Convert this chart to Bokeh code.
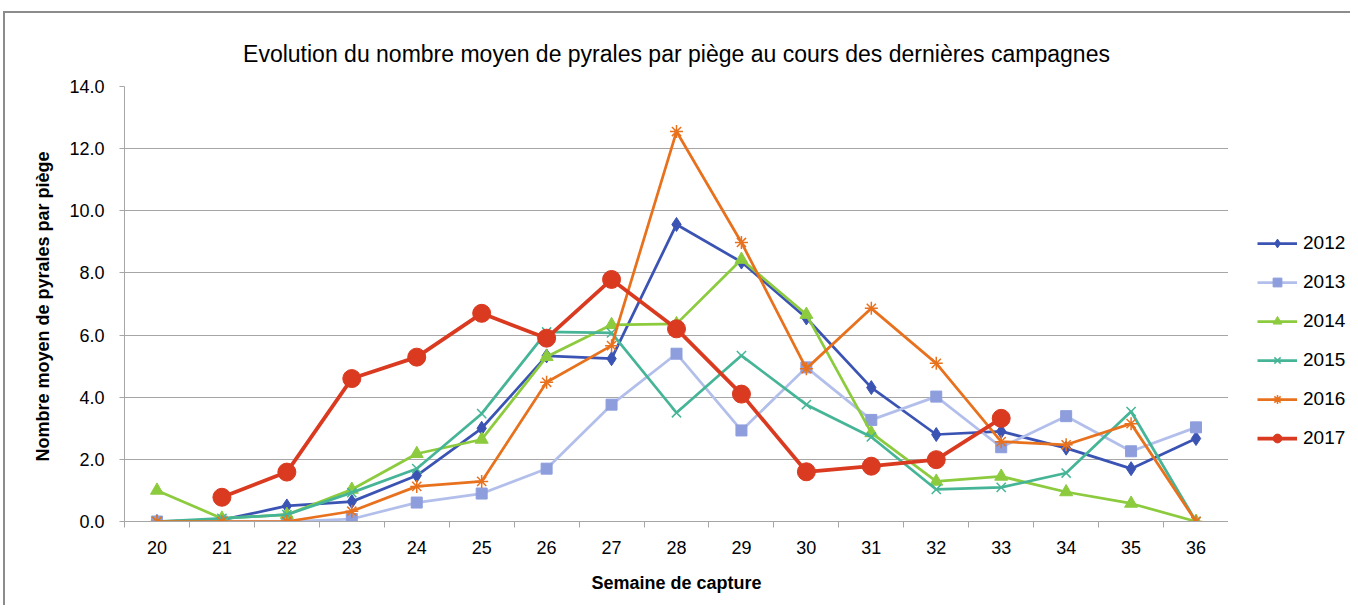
from bokeh.plotting import figure
from bokeh.layouts import row
from bokeh.models import FixedTicker, PrintfTickFormatter, Legend, LegendItem, InlineStyleSheet
from bokeh.embed import file_html
from bokeh.resources import INLINE

weeks = list(range(20, 37))
weeks_2017 = list(range(21, 34))
y2012 = [0.0, 0.05, 0.5, 0.64, 1.48, 3.0, 5.33, 5.24, 9.56, 8.35, 6.55, 4.31, 2.8, 2.9, 2.36, 1.7, 2.67]
y2013 = [0.0, 0.0, 0.0, 0.08, 0.61, 0.9, 1.7, 3.76, 5.4, 2.93, 4.96, 3.27, 4.02, 2.39, 3.39, 2.26, 3.03]
y2014 = [1.0, 0.1, 0.22, 1.03, 2.18, 2.64, 5.3, 6.33, 6.36, 8.43, 6.66, 2.85, 1.29, 1.45, 0.95, 0.58, 0.0]
y2015 = [0.0, 0.1, 0.22, 0.93, 1.7, 3.47, 6.1, 6.07, 3.5, 5.34, 3.76, 2.72, 1.03, 1.1, 1.56, 3.54, 0.0]
y2016 = [0.0, 0.0, 0.0, 0.33, 1.13, 1.29, 4.48, 5.66, 12.55, 8.98, 4.92, 6.86, 5.09, 2.57, 2.47, 3.15, 0.0]
y2017 = [0.78, 1.59, 4.6, 5.29, 6.7, 5.9, 7.79, 6.2, 4.1, 1.6, 1.78, 1.99, 3.32]

series = [
    ("2012", weeks, y2012, "#3B54B4", "#3B54B4", "diamond", 14, 2.75),
    ("2013", weeks, y2013, "#B3BFEB", "#8E9EDD", "square", 11, 2.75),
    ("2014", weeks, y2014, "#8CCB3E", "#8CCB3E", "triangle", 13, 2.75),
    ("2015", weeks, y2015, "#46B597", "#46B597", "x", 13, 2.75),
    ("2016", weeks, y2016, "#E8711E", "#E8711E", "asterisk", 13, 2.75),
    ("2017", weeks_2017, y2017, "#D93A20", "#D93A20", "circle", 18, 3.75),
]

FONT = "'Liberation Sans', sans-serif"

H = 605
MAIN_W = 1228
LEG_W = 122
p = figure(width=MAIN_W, height=H, output_backend="svg", toolbar_location=None,
           x_range=(19.5, 36.5), y_range=(0, 14),
           min_border_left=124, min_border_right=0, min_border_top=86, min_border_bottom=H - 521,
           title="Evolution du nombre moyen de pyrales par piège au cours des dernières campagnes")
p.title.text_font = FONT
p.title.text_font_size = "23px"
p.title.text_font_style = "normal"
p.title.align = "center"
p.title.text_color = "#000000"
p.title.standoff = 40

p.outline_line_color = None
p.xgrid.grid_line_color = None
p.ygrid.grid_line_color = "#A6A6A6"
p.ygrid.grid_line_width = 1

p.xaxis.ticker = FixedTicker(ticks=weeks, minor_ticks=[w - 0.5 for w in weeks] + [36.5])
p.xaxis.major_tick_line_color = None
p.xaxis.minor_tick_line_color = "#A6A6A6"
p.xaxis.minor_tick_out = 6
p.xaxis.minor_tick_in = 0
p.xaxis.axis_line_color = "#A6A6A6"
p.xaxis.major_label_standoff = 13
p.xaxis.axis_label = "Semaine de capture"
p.xaxis.axis_label_standoff = 16

p.yaxis.ticker = FixedTicker(ticks=[0, 2, 4, 6, 8, 10, 12, 14], minor_ticks=[])
p.yaxis.formatter = PrintfTickFormatter(format="%.1f")
p.yaxis.major_tick_line_color = "#A6A6A6"
p.yaxis.major_tick_out = 5
p.yaxis.major_tick_in = 0
p.yaxis.minor_tick_line_color = None
p.yaxis.axis_line_color = "#A6A6A6"
p.yaxis.major_label_standoff = 15
p.yaxis.axis_label = "Nombre  moyen de pyrales par piège"
p.yaxis.axis_label_standoff = 13

for ax in (p.xaxis, p.yaxis):
    ax.major_label_text_font = FONT
    ax.major_label_text_font_size = "18px"
    ax.major_label_text_color = "#000000"
    ax.axis_label_text_font = FONT
    ax.axis_label_text_font_size = "18px"
    ax.axis_label_text_font_style = "bold"
    ax.axis_label_text_color = "#000000"

# legend panel: a small figure without axes holding the legend
lp = figure(width=LEG_W, height=H, output_backend="svg", toolbar_location=None,
            x_axis_type=None, y_axis_type=None, x_range=(0, 1), y_range=(0, 1),
            min_border_left=0, min_border_right=0, min_border_top=0, min_border_bottom=0)
lp.outline_line_color = None
lp.xgrid.grid_line_color = None
lp.ygrid.grid_line_color = None

items = []
for name, xs, ys, lc, mc, marker, size, lw in series:
    p.line(xs, ys, line_color=lc, line_width=lw)
    if marker in ("x", "asterisk"):
        p.scatter(xs, ys, marker=marker, size=size, line_color=mc, line_width=1.5, fill_color=None)
    else:
        p.scatter(xs, ys, marker=marker, size=size, line_color=mc, fill_color=mc)
    # legend-side copies: same data, outside the (0,1) view of the legend panel
    l1 = lp.line(xs, ys, line_color=lc, line_width=lw)
    if marker in ("x", "asterisk"):
        l2 = lp.scatter(xs, ys, marker=marker, size=size, line_color=mc, line_width=1.5, fill_color=None)
    else:
        l2 = lp.scatter(xs, ys, marker=marker, size=size, line_color=mc, fill_color=mc)
    items.append(LegendItem(label=name, renderers=[l1, l2]))

legend = Legend(items=items, location=(29, 72), orientation="vertical",
                glyph_width=40, glyph_height=22, spacing=17, padding=0, margin=0,
                label_standoff=6, border_line_color=None, background_fill_alpha=0,
                label_text_font=FONT, label_text_font_size="19px", label_text_color="#000000")
lp.add_layout(legend, "center")

layout = row(p, lp, spacing=0)
layout.stylesheets = [InlineStyleSheet(css=":host { position: relative; } :host::after { content: ''; position: absolute; left: 3px; top: 11px; right: 0; bottom: 0; border-top: 2px solid #8C8C8C; border-left: 2px solid #8C8C8C; pointer-events: none; }")]

open("out.html", "w").write(file_html(layout, INLINE))
